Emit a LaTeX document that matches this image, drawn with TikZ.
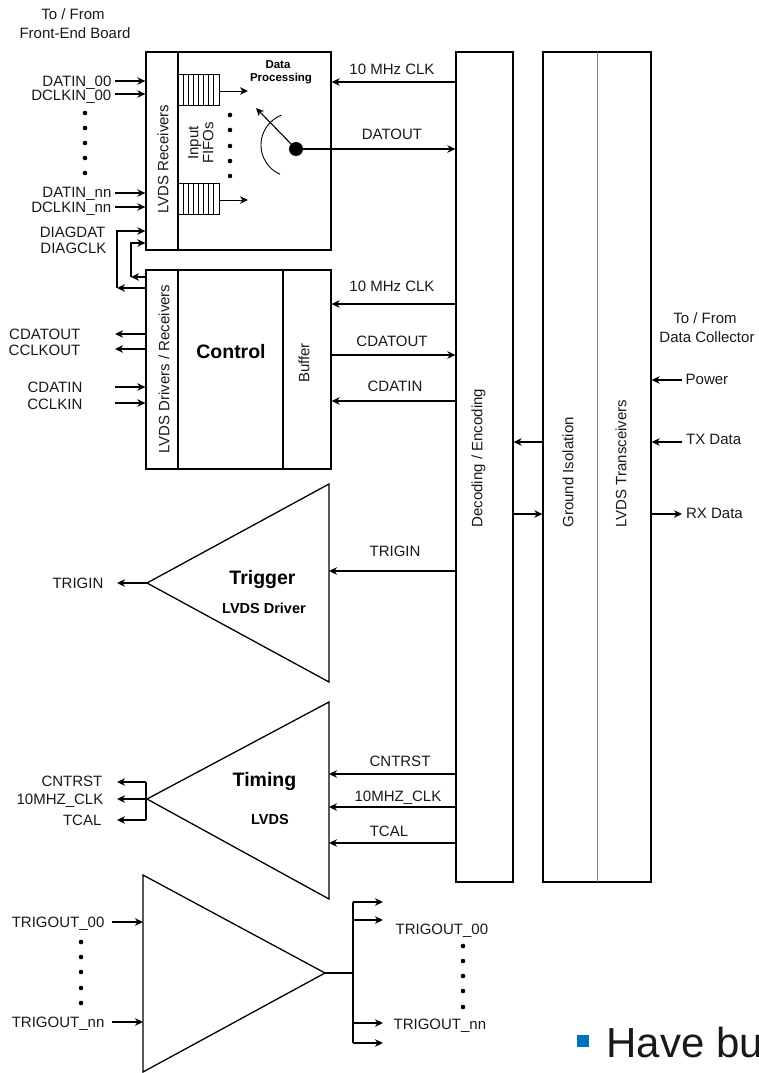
\documentclass[tikz,border=0pt]{standalone}
\usepackage{fontspec}
\setmainfont{Liberation Sans}
\usetikzlibrary{arrows.meta}
\definecolor{bulletblue}{RGB}{0,112,192}
\definecolor{divgray}{RGB}{130,130,130}
\definecolor{txt}{RGB}{25,25,25}
\begin{document}
\begin{tikzpicture}[x=1pt,y=-1pt,
  line width=1.3pt,
  >={Stealth[length=8pt,width=7.5pt,inset=2.5pt]},
  lbl/.style={font=\fontsize{15}{17}\selectfont, inner sep=0pt, text height=10.8pt, text depth=0pt, text=txt},
  bigb/.style={font=\fontsize{19.5}{22}\selectfont\bfseries, inner sep=0pt, text height=14pt, text depth=0pt},
  smallb/.style={font=\fontsize{11.5}{13}\selectfont\bfseries, inner sep=0pt, text height=8.3pt, text depth=0pt},
  midb/.style={font=\fontsize{14.5}{16}\selectfont\bfseries, inner sep=0pt, text height=10.5pt, text depth=0pt},
  blk/.style={draw, inner sep=0pt, minimum width=#1},
  dot/.style={circle, fill, inner sep=0pt, minimum size=4.6pt},
  fifo/.style={draw, line width=1pt, inner sep=0pt, minimum width=41pt, minimum height=31pt},
]
\useasboundingbox (0,0) rectangle (759,1073);

% ---------- main blocks ----------
\node[blk=185pt, minimum height=198pt] (dp)  at (238.5,151) {};
\node[blk=185pt, minimum height=199pt] (ctl) at (238.5,369.5) {};
\node[blk=57pt,  minimum height=830pt] (dec) at (484.5,467) {};
\node[blk=108pt, minimum height=830pt] (gi)  at (597,467) {};

% dividers
\draw (178,52) -- (178,250);
\draw (178,270) -- (178,469);
\draw (283,270) -- (283,469);
\draw[divgray, line width=1pt] (597,52) -- (597,882);

% rotated block texts
\node[lbl, rotate=90] (lvdsrx) at (163,159) {LVDS Receivers};
\node[lbl, rotate=90] (inp) at (193,143) {Input};
\node[lbl, rotate=90] (fifos) at (208,143) {FIFOs};
\node[lbl, rotate=90] (lvdsdr) at (164,369) {LVDS Drivers / Receivers};
\node[lbl, rotate=90] (buf) at (304,363) {Buffer};
\node[lbl, rotate=90, anchor=west] (decl) at (477,528) {Decoding / Encoding};
\node[lbl, rotate=90, anchor=west] (gil) at (568,528) {Ground Isolation};
\node[lbl, rotate=90, anchor=west] (trl) at (621,528) {LVDS Transceivers};

\node[smallb] (dpa) at (278,64) {Data};
\node[smallb] (dpb) at (281,77.5) {Processing};
\node[bigb] (ctltxt) at (231,351) {Control};

% ---------- FIFOs ----------
\node[fifo] (f1) at (198.5,90) {};
\node[fifo] (f2) at (198.5,198.5) {};
\foreach \x in {183,188,...,213}{
  \draw[line width=0.8pt] (\x,74.5) -- (\x,105.5);
  \draw[line width=0.8pt] (\x,183) -- (\x,214);
}
\draw[->, line width=1pt] (f1.east |- 0,91) -- (248,91);
\draw[->, line width=1pt] (f2.east |- 0,200) -- (248,200);
\foreach \y in {115,130,146,161,176} \node[dot] at (230,\y) {};

% knob
\node[circle, fill, inner sep=0pt, minimum size=14pt] (knob) at (296,149) {};
\draw[->, line width=1.1pt] (knob.center) -- (256,108);
\draw[line width=0.9pt] (293,145) ++(114:32) arc[start angle=114, end angle=249, radius=32];

% ---------- top-left inputs ----------
\node[lbl] (tf1) at (73,14) {To / From};
\node[lbl] (tf2) at (75,33) {Front-End Board};

\node[lbl, anchor=east] (d00) at (112,81) {DATIN\_00};
\node[lbl, anchor=east] (c00) at (112,95) {DCLKIN\_00};
\node[lbl, anchor=east] (dnn) at (112,192) {DATIN\_nn};
\node[lbl, anchor=east] (cnn) at (112,207) {DCLKIN\_nn};
\draw[->] (115,81) -- (dp.west |- 0,81);
\draw[->] (115,94) -- (dp.west |- 0,94);
\draw[->] (115,193) -- (dp.west |- 0,193);
\draw[->] (115,207) -- (dp.west |- 0,207);
\foreach \y in {113,128,143,158,173} \node[dot] at (85,\y) {};

\node[lbl, anchor=east] (ddat) at (106,232) {DIAGDAT};
\node[lbl, anchor=east] (dclk) at (107,248) {DIAGCLK};
\draw[->] (ctl.west |- 0,277) -- (131,277);
\draw[->] (131,277) -- (131,243) -- (dp.west |- 0,243);
\draw[->] (ctl.west |- 0,288) -- (117,288);
\draw[->] (117,288) -- (117,231) -- (dp.west |- 0,231);

% control side signals
\node[lbl, anchor=east] (cdo) at (81,334) {CDATOUT};
\node[lbl, anchor=east] (cco) at (81,350) {CCLKOUT};
\node[lbl, anchor=east] (cdi) at (83,387) {CDATIN};
\node[lbl, anchor=east] (cci) at (83,404) {CCLKIN};
\draw[->] (ctl.west |- 0,334) -- (115,334);
\draw[->] (ctl.west |- 0,349) -- (115,349);
\draw[->] (115,387) -- (ctl.west |- 0,387);
\draw[->] (115,403) -- (ctl.west |- 0,403);

% ---------- bus between blocks and decoding ----------
\node[lbl] (l1) at (392,69.5) {10 MHz CLK};
\draw[->] (dec.west |- 0,82) -- (dp.east |- 0,82);
\node[lbl] (l2) at (392,134.5) {DATOUT};
\draw[->] (knob.center) -- (dec.west |- knob.center);
\node[lbl] (l3) at (392,286.5) {10 MHz CLK};
\draw[->] (dec.west |- 0,304) -- (ctl.east |- 0,304);
\node[lbl] (l4) at (392,341) {CDATOUT};
\draw[->] (ctl.east |- 0,355) -- (dec.west |- 0,355);
\node[lbl] (l5) at (395,386) {CDATIN};
\draw[->] (dec.west |- 0,401) -- (ctl.east |- 0,401);

% decoding <-> ground isolation
\draw[->] (gi.west |- 0,442) -- (dec.east |- 0,442);
\draw[->] (dec.east |- 0,514) -- (gi.west |- 0,514);

% right side
\node[lbl] (tf3) at (705,318) {To / From};
\node[lbl] (tf4) at (707,337) {Data Collector};
\node[lbl, anchor=west] (pw) at (685,379) {Power};
\node[lbl, anchor=west] (tx) at (685.5,439.5) {TX Data};
\node[lbl, anchor=west] (rx) at (685.5,513.5) {RX Data};
\draw[->] (682,380) -- (gi.east |- 0,380);
\draw[->] (682,442) -- (gi.east |- 0,442);
\draw[->] (gi.east |- 0,514) -- (682,514);

% ---------- Trigger ----------
\coordinate (tgA) at (147,583);
\coordinate (tgT) at (329,484);
\coordinate (tgB) at (329,682);
\draw[line join=miter] (tgA) -- (tgT) -- (tgB) -- cycle;
\node[bigb] (tgtxt) at (262.5,577) {Trigger};
\node[midb] (tgsub) at (264,608) {LVDS Driver};
\node[lbl, anchor=east] (tgin) at (104,583) {TRIGIN};
\draw[->] (tgA) -- (117,583);
\node[lbl] (l6) at (395,551.5) {TRIGIN};
\draw[->] (dec.west |- 0,571) -- (tgT |- 0,571);

% ---------- Timing ----------
\coordinate (tmA) at (147,799);
\coordinate (tmT) at (329,702);
\coordinate (tmB) at (329,899);
\draw[line join=miter] (tmA) -- (tmT) -- (tmB) -- cycle;
\node[bigb] (tmtxt) at (264.5,779.5) {Timing};
\node[midb] (tmsub) at (270,819) {LVDS};
\node[lbl] (l7) at (400,761.5) {CNTRST};
\node[lbl] (l8) at (398,796) {10MHZ\_CLK};
\node[lbl] (l9) at (389,831.5) {TCAL};
\draw[->] (dec.west |- 0,774) -- (tmT |- 0,774);
\draw[->] (dec.west |- 0,807) -- (tmT |- 0,807);
\draw[->] (dec.west |- 0,843) -- (tmT |- 0,843);
\draw (146,782) -- (146,820);
\node[lbl, anchor=east] (o1) at (103,781) {CNTRST};
\node[lbl, anchor=east] (o2) at (104,799) {10MHZ\_CLK};
\node[lbl, anchor=east] (o3) at (102,820) {TCAL};
\draw[->] (146,782) -- (117,782);
\draw[->] (tmA) -- (117,799);
\draw[->] (146,820) -- (117,820);

% ---------- fan-out buffer ----------
\coordinate (bfT) at (143,875);
\coordinate (bfB) at (143,1072);
\coordinate (bfA) at (325,973);
\draw[line join=miter] (bfT) -- (bfA) -- (bfB) -- cycle;
\node[lbl, anchor=east] (ti0) at (105,922) {TRIGOUT\_00};
\node[lbl, anchor=east] (tin) at (105,1022) {TRIGOUT\_nn};
\draw[->] (112,922) -- (bfT |- 0,922);
\draw[->] (112,1022) -- (bfT |- 0,1022);
\foreach \y in {942,957,972,988,1003} \node[dot] at (81,\y) {};
\coordinate (fork) at (353,973);
\draw (bfA) -- (fork);
\draw (353,902) -- (353,1043);
\foreach \y in {902,920,1023,1043} \draw[->] (353,\y) -- (383,\y);
\node[lbl, anchor=west] (to0) at (395,929) {TRIGOUT\_00};
\node[lbl, anchor=west] (tonn) at (393,1024) {TRIGOUT\_nn};
\foreach \y in {946,961,976,991,1007} \node[dot] at (463,\y) {};

% ---------- slide text fragment ----------
\fill[bulletblue] (577,1035) rectangle (589,1047);
\node[anchor=base west, inner sep=0pt, font=\fontsize{42}{48}\selectfont, text=txt] (hb) at (606,1057) {Have bu};
\end{tikzpicture}
\end{document}
